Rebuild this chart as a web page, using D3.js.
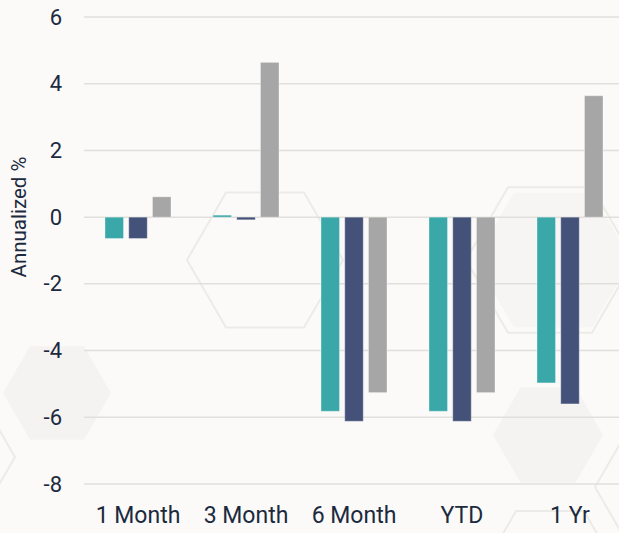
<!DOCTYPE html>
<html>
<head>
<meta charset="utf-8">
<script src="https://cdn.jsdelivr.net/npm/d3@7"></script>
<style>
  html, body { margin: 0; padding: 0; background: #FBFAF8; }
  svg { display: block; }
  text { font-family: Roboto, "Noto Sans", sans-serif; }
</style>
</head>
<body>
<div id="chart"></div>
<script>
// ---- data ----
const categories = ["1 Month", "3 Month", "6 Month", "YTD", "1 Yr"];
const seriesNames = ["Series A", "Series B", "Series C"];
const seriesA = [-0.64, 0.06, -5.82, -5.82, -4.97];
const seriesB = [-0.64, -0.08, -6.12, -6.12, -5.60];
const seriesC = [0.61, 4.64, -5.26, -5.26, 3.64];
const yTicks = [6, 4, 2, 0, -2, -4, -6, -8];
const yTickLabels = ["6", "4", "2", "0", "-2", "-4", "-6", "-8"];
const yLabel = "Annualized %";
const colors = ["#3AA8A8", "#44527A", "#A6A6A6"];

const W = 619, H = 533;
const svg = d3.select("#chart").append("svg").attr("width", W).attr("height", H);

// background decorative hexagons
function hex(cx, cy, r) {
  const pts = d3.range(6).map(i => {
    const a = Math.PI / 3 * i;
    return [cx + r * Math.cos(a), cy + r * Math.sin(a)];
  });
  return "M" + pts.map(p => p.join(",")).join("L") + "Z";
}
const bg = svg.append("g");
bg.append("path").attr("d", hex(57, 393, 54)).attr("fill", "#F4F3F1");
bg.append("path").attr("d", hex(548, 435, 55)).attr("fill", "#F4F3F1");
bg.append("path").attr("d", hex(553, 260, 78)).attr("fill", "#F6F5F3");
bg.append("path").attr("d", hex(265, 260, 78)).attr("fill", "none").attr("stroke", "#ECEBE8").attr("stroke-width", 2);
bg.append("path").attr("d", hex(550, 260, 84)).attr("fill", "none").attr("stroke", "#ECEBE8").attr("stroke-width", 2);
bg.append("path").attr("d", hex(-30, 457, 45)).attr("fill", "none").attr("stroke", "#ECEBE8").attr("stroke-width", 2);
bg.append("path").attr("d", hex(550, 570, 68)).attr("fill", "none").attr("stroke", "#ECEBE8").attr("stroke-width", 2);
bg.append("path").attr("d", hex(660, 487, 65)).attr("fill", "none").attr("stroke", "#ECEBE8").attr("stroke-width", 2);

// scales
const y = d3.scaleLinear().domain([-8, 6]).range([484, 17]);
const x = d3.scaleBand().domain(categories).range([84, 624]).paddingInner(0.389).paddingOuter(0.1945);
const xs = d3.scaleBand().domain(seriesNames).range([0, x.bandwidth()]).paddingInner(0.22).paddingOuter(0);

// grid
const grid = svg.append("g");
grid.selectAll("line").data(yTicks).join("line")
  .attr("x1", 84).attr("x2", W)
  .attr("y1", d => y(d)).attr("y2", d => y(d))
  .attr("stroke", "#E0DFDC").attr("stroke-width", 1.5);

// y axis labels
const yAxis = d3.axisLeft(y).tickValues(yTicks)
  .tickFormat((d, i) => yTickLabels[i]).tickSize(0).tickPadding(0);
const gy = svg.append("g").attr("transform", "translate(62,0)").call(yAxis);
gy.select(".domain").remove();
gy.selectAll("text").attr("font-size", 22).attr("fill", "#1C2A3F")
  .attr("font-family", "Roboto, sans-serif");

// x axis labels
const xAxis = d3.axisBottom(x).tickSize(0).tickPadding(0);
const gx = svg.append("g").attr("transform", "translate(0,507)").call(xAxis);
gx.select(".domain").remove();
gx.selectAll("text").attr("font-size", 23).attr("fill", "#1C2A3F")
  .attr("font-family", "Roboto, sans-serif").attr("dy", "0.71em");

// y label
svg.append("text")
  .attr("transform", "translate(26,217) rotate(-90)")
  .attr("text-anchor", "middle")
  .attr("font-size", 20.5).attr("fill", "#1C2A3F")
  .text(yLabel);

// bars
const allSeries = [seriesA, seriesB, seriesC];
const rows = categories.map((c, i) => ({ cat: c, vals: allSeries.map((s, j) => ({ name: seriesNames[j], v: s[i], color: colors[j] })) }));
const groups = svg.append("g").selectAll("g").data(rows).join("g")
  .attr("transform", d => `translate(${x(d.cat)},0)`);
groups.selectAll("rect").data(d => d.vals).join("rect")
  .attr("x", d => xs(d.name))
  .attr("width", xs.bandwidth())
  .attr("y", d => y(Math.max(0, d.v)))
  .attr("height", d => Math.abs(y(d.v) - y(0)))
  .attr("fill", d => d.color)
  .attr("stroke", "#ffffff").attr("stroke-opacity", 0.35).attr("stroke-width", 1);
</script>
</body>
</html>
